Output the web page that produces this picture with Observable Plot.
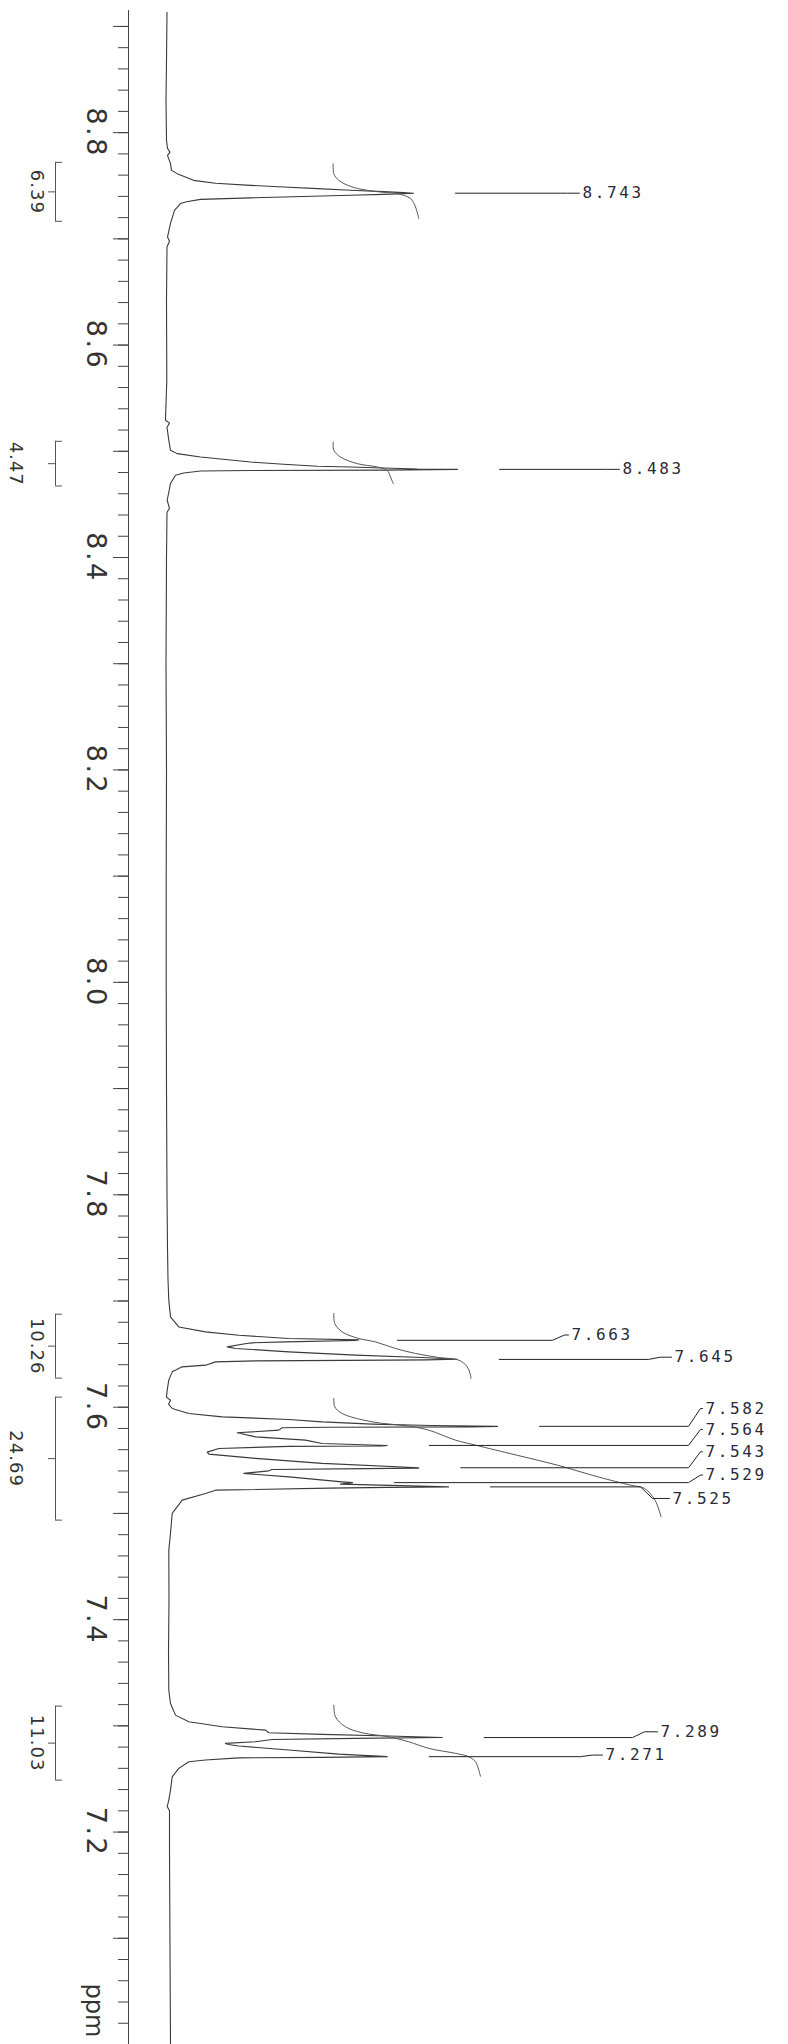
<!DOCTYPE html>
<html>
<head>
<meta charset="utf-8">
<script src="https://cdn.jsdelivr.net/npm/d3@7"></script>
<script src="https://cdn.jsdelivr.net/npm/@observablehq/plot@0.6"></script>
<style>
  html, body { margin: 0; padding: 0; background: #fff; }
  #chart svg { display: block; }
  g[font-size="27"] text { letter-spacing: 2.5px; }
  g[font-size="18"] text { letter-spacing: 1px; }
  g[font-size="16"] text { letter-spacing: 2.6px; }
</style>
</head>
<body>
<div id="chart"></div>
<script>
// ================= DATA =================
// axis (ppm)
const axisLabelPpm = [8.8, 8.6, 8.4, 8.2, 8.0, 7.8, 7.6, 7.4, 7.2];
const majorTickPpm = d3.range(89, 69, -1).map(d => d / 10);
const minorTickPpm = d3.range(445, 349, -1).map(d => d / 50);

// spectrum trace: [ppm, intensity]
const specTop = [[8.9132,0.5],[8.868,0],[8.830,-0.5],[8.7928,0],[8.7852,1],[8.7817,3.5],[8.7786,1]];
const spec8743 = [[8.7708,4],[8.7645,5],[8.7614,10.7],[8.7551,27],[8.7523,49],[8.7504,84],[8.7488,117],
  [8.7473,151],[8.7457,184],[8.7445,217],[8.7435,237],[8.7430,247],[8.7425,237],[8.7419,217],[8.7410,184],
  [8.7394,117],[8.7386,84],[8.7372,34],[8.7349,20],[8.7332,14],[8.7269,8],[8.7146,4],[8.7017,1],[8.6977,3],[8.6923,0.5]];
const specMid1 = [[8.642,0],[8.567,0.3],[8.5292,-1],[8.5265,3],[8.5226,0.5]];
const spec8483 = [[8.5103,2.3],[8.5009,4],[8.4978,10.7],[8.4946,34],[8.4899,84],[8.4878,117],[8.4859,151],
  [8.4852,184],[8.4843,217],[8.4833,251],[8.4830,291],[8.4823,217],[8.4819,84],[8.4814,34],[8.4796,17.3],
  [8.4774,9],[8.4696,4],[8.4539,0.7],[8.4463,3],[8.4426,0.5]];
const specMid2 = [[8.40,0],[8.30,-0.5],[8.20,0],[8.10,-0.3],[8.00,-0.3],[7.90,0],[7.80,0.5],[7.75,1],[7.72,1.5]];
const spec766 = [[7.7008,2.3],[7.6851,4],[7.6756,12.3],[7.6709,39],[7.6678,72.3],[7.6647,122.3],[7.6634,192.3],
  [7.6628,189],[7.6615,119],[7.6606,85.7],[7.6600,80],[7.6568,60.7],[7.6553,69],[7.6521,122.3],[7.6490,189],
  [7.6468,255.7],[7.6452,290.7],[7.6446,260],[7.6443,222.3],[7.6436,89],[7.6427,49],[7.6396,39],[7.6380,15.7],
  [7.6333,5.7],[7.6255,2.3],[7.6161,0.7],[7.6095,0],[7.6066,4],[7.6029,2]];
const spec755 = [[7.5988,5.7],[7.5941,22.3],[7.5909,55.7],[7.5885,122.3],[7.5862,155.7],[7.5841,205.7],[7.5828,264],
  [7.5820,331],[7.5815,304],[7.5812,162.3],[7.5806,115.7],[7.5784,112.3],[7.5759,70.7],[7.5721,89],[7.5690,139],
  [7.5659,155.7],[7.5640,220.7],[7.5635,215.7],[7.5631,122.3],[7.5612,52.3],[7.5577,40.7],[7.5558,42.3],[7.5518,89],
  [7.5471,155.7],[7.5430,252.3],[7.5427,252],[7.5422,199],[7.5414,105.7],[7.5401,102.3],[7.5377,77.3],[7.5344,122.3],
  [7.5297,175.7],[7.5290,186],[7.5276,174],[7.5262,234],[7.5250,282],[7.5245,222.3],[7.5238,162.3],[7.5219,49],
  [7.5188,39],[7.5125,15.7],[7.5000,5.7],[7.4812,4],[7.4654,2.3],[7.4183,2.5],[7.3713,2],[7.3337,2.3]];
const spec728 = [[7.3211,4],[7.3101,9],[7.3038,22.3],[7.2991,55.7],[7.2960,99],[7.2935,102.3],[7.2920,155.7],
  [7.2904,222.3],[7.2890,275.7],[7.2882,189],[7.2872,105.7],[7.2850,89],[7.2835,59],[7.2824,62],[7.2810,72.3],
  [7.2772,122.3],[7.2734,172.3],[7.2710,220.7],[7.2703,155.7],[7.2699,72.3],[7.2678,39],[7.2662,22.3],[7.2600,12.3],
  [7.2520,5.7],[7.2395,4],[7.2301,2.3],[7.2240,0.7],[7.2200,3],[7.1830,3],[7.0889,3.5],[7.0004,4]];

// picked peaks (ppm)
const peakPpm = [8.743, 8.483, 7.663, 7.645, 7.582, 7.564, 7.543, 7.529, 7.525, 7.289, 7.271];

// integrations
const integFrom  = [8.7720, 8.5094, 7.6876, 7.6095, 7.3186];
const integTo    = [8.7165, 8.4673, 7.6274, 7.4937, 7.2489];
const integValue = [6.39, 4.47, 10.26, 24.69, 11.03];

// integral curves: [ppm, intensity]
const int8743 = [[8.7708,166.7],[8.7614,167.3],[8.7551,172.3],[8.7494,184],[8.7457,200.7],[8.7438,217.3],
  [8.7426,230.7],[8.7379,244],[8.7300,249],[8.7190,252.3]];
const int8483 = [[8.5087,166.7],[8.5009,167.3],[8.4946,174],[8.4884,190.7],[8.4852,210.7],[8.4821,220.7],
  [8.4758,224],[8.4696,226.7]];
const int766 = [[7.6883,167.3],[7.6789,168.3],[7.6709,175.7],[7.6647,192.3],[7.6615,209],[7.6553,229],
  [7.6506,249],[7.6468,272.3],[7.6443,292.3],[7.6380,300.7],[7.6302,304],[7.6271,304.5]];
const int755 = [[7.6083,167.3],[7.6003,168.3],[7.5941,175.7],[7.5862,205.7],[7.5822,242.3],[7.5784,262.3],
  [7.5690,289],[7.5643,309],[7.5549,350],[7.5455,390.8],[7.5344,431.5],[7.5266,464],[7.5235,478],
  [7.5125,488.5],[7.4968,494.6]];
const int728 = [[7.3195,167.3],[7.3085,169],[7.2991,179],[7.2935,195.7],[7.2897,222.3],[7.2850,242.3],
  [7.2788,262.3],[7.2741,289],[7.2709,302.3],[7.2662,309],[7.2527,313.9]];

// ================= LAYOUT =================
const WIDTH = 788, HEIGHT = 2044, MARGIN_LEFT = 128, MARGIN_TOP = 10;
const X_DOMAIN = [-38, 622], Y_DOMAIN = [7.0, 8.915]; // 7.0 at the bottom, 8.915 at the top
const xPx = d3.scaleLinear(X_DOMAIN, [MARGIN_LEFT, WIDTH]);
const px = v => xPx.invert(v);
const LABEL_GAP = 42;   // px between peak tip and its label line
const KINK_W = 12;      // px of the slanted part of a label line
const peakLabelLeftPx = [582, 622, 571, 674, 705, 705, 705, 705, 672, 660, 605];
const peakKinkPx      = [567, 607, 552, 648, 688, 688, 688, 688, 640, 632, 580];
const peakLabelPpm    = [8.743, 8.483, 7.668, 7.6471, 7.5988, 7.5791, 7.5580, 7.5361, 7.5141, 7.2944, 7.2725];
const integLabelPx = [36, 15, 36, 15.5, 36];
const BRACKET_PX = 55, BRACKET_CAP_PX = 62, BRACKET_MID_PX = 48;

// ================= BUILD =================
const segments = [specTop, spec8743, specMid1, spec8483, specMid2, spec766, spec755, spec728];
const spectrum = segments.flat().map(([ppm, v]) => ({ppm, v}));
const tipOf = p => d3.least(spectrum, d => Math.abs(d.ppm - p)).v;

const peaks = peakPpm.map((p, i) => ({
  ppm: p, tip: tipOf(p), labelX: px(peakLabelLeftPx[i]), kinkX: px(peakKinkPx[i]), labelY: peakLabelPpm[i]
}));
const connectors = peaks.flatMap((d, i) => [
  {z: i, x: d.tip + LABEL_GAP, y: d.ppm},
  {z: i, x: d.kinkX, y: d.ppm},
  {z: i, x: d.kinkX + KINK_W, y: d.labelY},
  {z: i, x: d.labelX - 3, y: d.labelY}
]);

const integrals = integValue.map((v, i) => ({
  v, from: integFrom[i], to: integTo[i], mid: (integFrom[i] + integTo[i]) / 2, col: px(integLabelPx[i])
}));
const integralCurves = [int8743, int8483, int766, int755, int728]
  .flatMap((c, k) => c.map(([ppm, v]) => ({ppm, v, z: k})));

const ink = "#333";

const chart = Plot.plot({
  width: WIDTH, height: HEIGHT,
  marginLeft: MARGIN_LEFT, marginRight: 0, marginTop: MARGIN_TOP, marginBottom: 0,
  style: {background: "#fff"},
  x: {domain: X_DOMAIN, axis: null},
  y: {domain: Y_DOMAIN, axis: null},
  marks: [
    // axis line and ticks
    Plot.ruleX([X_DOMAIN[0]], {stroke: "#444", strokeWidth: 1}),
    Plot.axisY(minorTickPpm, {anchor: "left", tickSize: 10, tickFormat: () => "", stroke: "#444", label: null}),
    Plot.axisY(majorTickPpm, {anchor: "left", tickSize: 15, tickFormat: () => "", stroke: "#444", label: null}),
    Plot.axisY(axisLabelPpm, {anchor: "left", tickSize: 0, tickPadding: 33, tickRotate: 90,
      textAnchor: "middle", lineAnchor: "middle", fontSize: 27, fontFamily: "DejaVu Sans",
      fill: ink, tickFormat: d3.format(".1f"), label: null}),
    Plot.text(["ppm"], {frameAnchor: "bottom-left", dx: -35, dy: -34, rotate: 90,
      textAnchor: "middle", lineAnchor: "middle", fontSize: 24, fontFamily: "DejaVu Sans", fill: ink}),

    // integration brackets
    Plot.ruleX(integrals, {x: () => px(BRACKET_PX), y1: "from", y2: "to", stroke: "#555"}),
    Plot.ruleY(integrals, {y: "from", x1: () => px(BRACKET_PX), x2: () => px(BRACKET_CAP_PX), stroke: "#555"}),
    Plot.ruleY(integrals, {y: "to", x1: () => px(BRACKET_PX), x2: () => px(BRACKET_CAP_PX), stroke: "#555"}),
    Plot.ruleY(integrals, {y: "mid", x1: () => px(BRACKET_MID_PX), x2: () => px(BRACKET_PX), stroke: "#555"}),
    Plot.text(integrals, {x: "col", y: "mid", text: d => d.v.toFixed(2), rotate: 90,
      textAnchor: "middle", lineAnchor: "middle", fontSize: 18, fontFamily: "DejaVu Sans", fill: ink}),

    // spectrum
    Plot.line(spectrum, {x: "v", y: "ppm", stroke: "#3a3a3a", strokeWidth: 1.1, curve: "linear"}),

    // integral curves
    Plot.line(integralCurves, {x: "v", y: "ppm", z: "z", stroke: "#555", strokeWidth: 1, curve: "catmull-rom"}),

    // peak labels
    Plot.line(connectors, {x: "x", y: "y", z: "z", stroke: "#222", strokeWidth: 1, curve: "linear"}),
    Plot.text(peaks, {x: "labelX", y: "labelY", text: d => d.ppm.toFixed(3), textAnchor: "start",
      lineAnchor: "middle", fontSize: 16, fontFamily: "DejaVu Sans Mono", fill: "#2a2a38"})
  ]
});
document.getElementById("chart").appendChild(chart);
</script>
</body>
</html>
